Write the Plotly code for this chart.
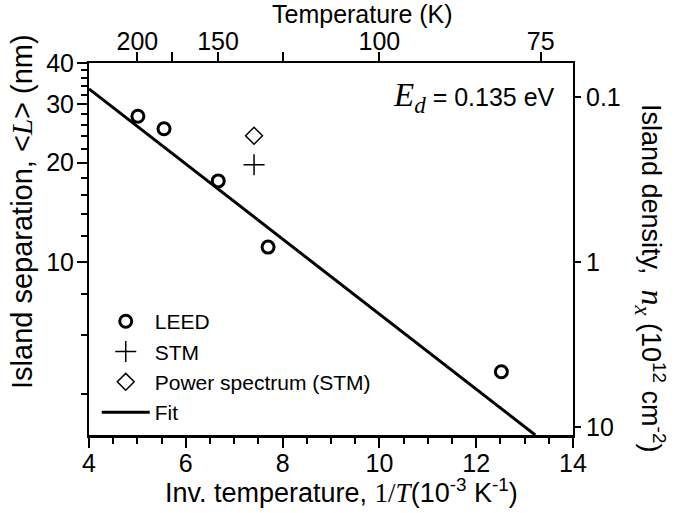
import math
import plotly.graph_objects as go

# ---- data ----
leed_x = [5.01, 5.55, 6.67, 7.70, 12.52]          # 1/T (10^-3 K^-1)
leed_L = [27.6, 25.3, 17.6, 11.1, 4.66]           # <L> (nm)
stm_x = [7.41]
stm_L = [19.7]
ps_x = [7.41]
ps_L = [24.1]
fit_x = [4.0, 13.22]
fit_L = [33.4, 3.0]

x_ticks = [4, 6, 8, 10, 12, 14]
y_ticks = [10, 20, 30, 40]
y_minor = [4, 6, 8, 12, 14, 16, 18, 22, 24, 26, 28, 32, 34, 36, 38]
top_temps = [200, 175, 150, 125, 100, 75]
top_labels = ["200", "", "150", "", "100", "75"]
dens_ticks = [0.1, 1, 10]
dens_labels = ["0.1", "1", "10"]

L_range = [3, 40]

FONT = "Liberation Sans, Arial, sans-serif"
TF = 25

fig = go.Figure()
fig.add_trace(go.Scatter(x=leed_x, y=leed_L, mode="markers", name="LEED",
                         marker=dict(symbol="circle-open", size=12, color="black",
                                     line=dict(width=3, color="black"))))
fig.add_trace(go.Scatter(x=stm_x, y=stm_L, mode="markers", name="STM",
                         marker=dict(symbol="cross-thin-open", size=15, color="black",
                                     line=dict(width=1.5, color="black"))))
fig.add_trace(go.Scatter(x=ps_x, y=ps_L, mode="markers", name="Power spectrum (STM)",
                         marker=dict(symbol="diamond-open", size=13, color="black",
                                     line=dict(width=1.5, color="black"))))
fig.add_trace(go.Scatter(x=fit_x, y=fit_L, mode="lines", name="Fit",
                         line=dict(color="black", width=3)))
# carriers for secondary axes
fig.add_trace(go.Scatter(x=[], y=[], xaxis="x2", yaxis="y", showlegend=False, hoverinfo="skip"))
fig.add_trace(go.Scatter(x=[], y=[], xaxis="x", yaxis="y2", showlegend=False, hoverinfo="skip"))

dens_range = [math.log10(100 / L_range[0] ** 2), math.log10(100 / L_range[1] ** 2)]

fig.update_layout(
    width=690, height=513,
    margin=dict(l=89, r=117, t=63, b=78),
    paper_bgcolor="white", plot_bgcolor="white",
    font=dict(family=FONT, size=TF, color="black"),
    showlegend=True,
    legend=dict(x=0.016, y=0.36, xanchor="left", yanchor="top",
                bgcolor="rgba(0,0,0,0)", font=dict(size=21, family=FONT),
                itemwidth=48, tracegroupgap=0),
    xaxis=dict(range=[4, 14], tickvals=x_ticks, ticks="outside", ticklen=10,
               tickwidth=1.5, tickcolor="black",
               showline=True, linecolor="black", linewidth=2.5, showgrid=False,
               zeroline=False, tickfont=dict(size=TF), ticklabelstandoff=-6,
               minor=dict(dtick=0.5, ticks="outside", ticklen=6, tickwidth=1.5,
                          tickcolor="black", showgrid=False)),
    xaxis2=dict(range=[4, 14], overlaying="x", side="top", anchor="y",
                tickvals=[1000 / t for t in top_temps], ticktext=top_labels,
                ticks="outside", ticklen=9, tickwidth=1.5, tickcolor="black",
                showline=True, linecolor="black", linewidth=2, showgrid=False,
                zeroline=False, tickfont=dict(size=TF), ticklabelstandoff=-8),
    yaxis=dict(type="log", range=[math.log10(L_range[0]), math.log10(L_range[1])],
               tickvals=y_ticks, ticktext=[str(v) for v in y_ticks],
               ticks="outside", ticklen=10, tickwidth=1.5, tickcolor="black",
               showline=True, linecolor="black", linewidth=2, showgrid=False,
               zeroline=False, tickfont=dict(size=TF), ticklabelstandoff=-2,
               minor=dict(tickvals=y_minor, ticks="outside", ticklen=6, tickwidth=1.5,
                          tickcolor="black", showgrid=False)),
    yaxis2=dict(type="log", range=dens_range, overlaying="y", side="right", anchor="x",
                tickvals=dens_ticks, ticktext=dens_labels,
                ticks="outside", ticklen=6, tickwidth=1.5, tickcolor="black",
                showline=True, linecolor="black", linewidth=2, showgrid=False,
                zeroline=False, tickfont=dict(size=TF)),
)

ann = []
ann.append(dict(xref="paper", yref="paper", x=(22 - 89) / 484, y=(435 - 212) / 372,
                text="Island separation, &lt;<span style='font-family:Liberation Serif'><i>L</i></span>&gt; (nm)",
                textangle=-90, showarrow=False, xanchor="center", yanchor="middle",
                font=dict(size=29)))
ann.append(dict(xref="paper", yref="paper", x=(651 - 89) / 484, y=(435 - 278) / 372,
                text="Island density,  <span style='font-family:Liberation Serif;font-size:32px'><i>n<sub>x</sub></i></span> (10<sup>12</sup> cm<sup>-2</sup>)",
                textangle=90, showarrow=False, xanchor="center", yanchor="middle",
                font=dict(size=27)))
ann.append(dict(xref="paper", yref="paper", x=(341 - 89) / 484, y=-(491 - 435) / 372,
                text="Inv. temperature, <span style='font-family:Liberation Serif'>1/<i>T</i></span>(10<sup>-3</sup> K<sup>-1</sup>)",
                showarrow=False, xanchor="center", yanchor="middle", font=dict(size=27)))
ann.append(dict(xref="paper", yref="paper", x=(362 - 89) / 484, y=(435 - 14) / 372,
                text="Temperature (K)", showarrow=False, xanchor="center",
                yanchor="middle", font=dict(size=25)))
ann.append(dict(xref="paper", yref="paper", x=(557 - 89) / 484, y=(435 - 97) / 372,
                text="<span style='font-family:Liberation Serif;font-size:33px'><i>E<sub>d</sub></i></span> = 0.135 eV",
                showarrow=False, xanchor="right", yanchor="middle", font=dict(size=TF)))
fig.update_layout(annotations=ann)

fig.write_html("out.html")
